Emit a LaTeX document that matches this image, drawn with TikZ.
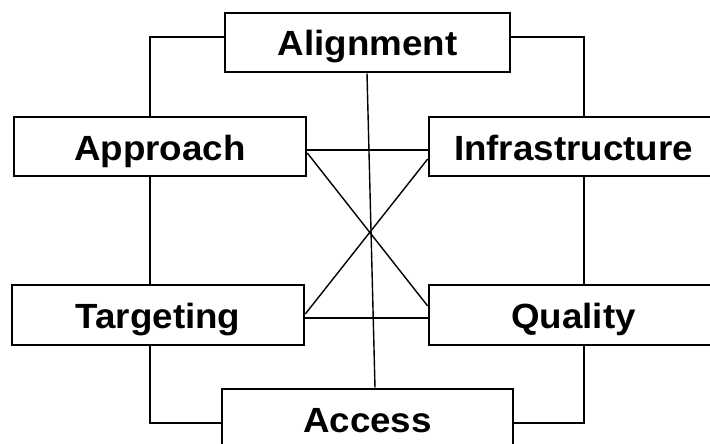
\documentclass[tikz,border=0pt]{standalone}
\usepackage{fontspec}
\setmainfont{Liberation Sans}[FakeStretch=1.05]
\usetikzlibrary{calc}
\tikzset{
  box/.style={draw=black, line width=2.6pt, fill=white, rectangle, inner sep=0pt,
    minimum height=59pt, text height=27pt, text depth=0pt,
    font=\fontsize{35}{40}\selectfont\bfseries},
  link/.style={draw=black, line width=2pt},
  thin link/.style={draw=black, line width=1.4pt}
}
\begin{document}
\begin{tikzpicture}[x=1pt, y=-1pt]
\useasboundingbox (0,0) rectangle (710,444);
\fill[white] (0,0) rectangle (710,444);
\clip (0,0) rectangle (710,444);
% nodes
\node[box, minimum width=285pt] (al) at (367.5,42.5) {Alignment};
\node[box, minimum width=292pt] (ap) at (160,146.5) {Approach};
\node[box, minimum width=289pt] (in) at (573.5,146.5) {Infrastructure};
\node[box, minimum width=292pt, minimum height=60pt] (ta) at (158,315) {Targeting};
\node[box, minimum width=289pt, minimum height=60pt] (qu) at (573.5,315) {Quality};
\node[box, minimum width=291pt, minimum height=60pt] (ac) at (367.5,419) {Access};
% outer ring connectors
\draw[link] (al.west |- 0,37) -| (ap.north -| 150,0);
\draw[link] (al.east |- 0,37) -| (in.north -| 584,0);
\draw[link] (ap.south -| 150,0) -- (ta.north -| 150,0);
\draw[link] (in.south -| 584,0) -- (qu.north -| 584,0);
\draw[link] (ta.south -| 150,0) |- (ac.west |- 0,423);
\draw[link] (qu.south -| 584,0) |- (ac.east |- 0,423);
% inner connectors
\draw[thin link] (ap.east |- 0,150) -- (in.west |- 0,150);
\draw[thin link] (ta.east |- 0,318) -- (qu.west |- 0,318);
\draw[thin link] (ap.east |- 0,153) -- (qu.west |- 0,306);
\draw[thin link] (ta.east |- 0,314) -- (in.west |- 0,159);
\draw[thin link] (al.south -| 367,0) -- (ac.north -| 375,0);
\end{tikzpicture}
\end{document}
